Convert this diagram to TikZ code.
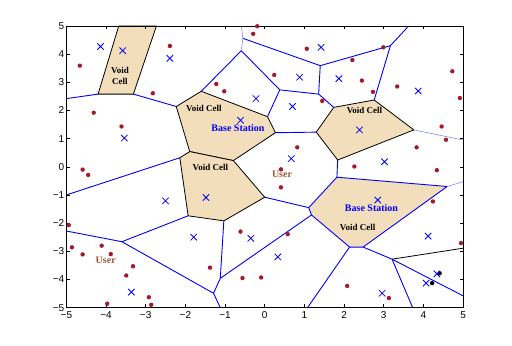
\documentclass[tikz,border=0pt]{standalone}
\usepackage{fontspec}
\setmainfont{Liberation Serif}
\newfontfamily\tickfont{Liberation Sans}
\definecolor{cellfill}{RGB}{242,222,186}
\definecolor{userdot}{RGB}{165,25,45}
\definecolor{usertext}{RGB}{165,85,45}
\begin{document}
\begin{tikzpicture}[x=39.67pt,y=28.17pt,
    edge/.style={blue,line width=0.9pt},
    faint/.style={blue!55,line width=0.5pt},
    voidcell/.style={fill=cellfill,draw=black,line width=0.8pt,line join=round},
    celllabel/.style={font=\bfseries\fontsize{9}{11}\selectfont,inner sep=0pt,align=center},
    bslabel/.style={font=\bfseries\fontsize{10}{12}\selectfont,inner sep=0pt,text=blue},
    userlabel/.style={font=\bfseries\fontsize{10}{12}\selectfont,inner sep=0pt,text=usertext},
    ticklabel/.style={font=\tickfont\fontsize{10}{12}\selectfont,inner sep=0pt}]
\useasboundingbox (-6.673,-6.361) rectangle (6.234,5.921);
\def\tk{3.5pt}
\def\xs{3.2pt}
% corners of the voronoi cells
\coordinate (a1) at (-3.68,5);    \coordinate (a2) at (-2.73,5);
\coordinate (a3) at (-3.31,2.58); \coordinate (a4) at (-4.20,2.58);
\coordinate (b1) at (-1.60,2.68); \coordinate (b2) at (0.07,1.78);
\coordinate (b3) at (0.27,1.21);  \coordinate (b4) at (-0.79,0.22);
\coordinate (b5) at (-1.89,0.54); \coordinate (b6) at (-2.23,2.14);
\coordinate (c1) at (-2.14,0.32); \coordinate (c2) at (0.0,-1.08);
\coordinate (c3) at (-1.03,-1.92);\coordinate (c4) at (-1.93,-1.74);
\coordinate (d1) at (1.74,2.11);  \coordinate (d2) at (2.76,2.37);
\coordinate (d3) at (3.76,1.31);  \coordinate (d4) at (1.84,0.24);
\coordinate (d5) at (1.30,1.23);
\coordinate (e1) at (1.82,-0.37); \coordinate (e2) at (4.60,-0.70);
\coordinate (e3) at (2.48,-2.85); \coordinate (e4) at (2.14,-2.85);
\coordinate (e5) at (1.18,-1.71); \coordinate (e6) at (1.11,-1.45);
\coordinate (f1) at (-0.59,4.12); \coordinate (f2) at (-0.55,4.56);
\coordinate (f3) at (1.40,3.59);  \coordinate (f4) at (3.17,4.30);
\coordinate (f5) at (1.36,2.58);  \coordinate (f6) at (0.38,2.73);
\coordinate (g1) at (-3.60,-2.66);\coordinate (g2) at (-1.29,-4.49);
\coordinate (g3) at (-1.12,-3.96);\coordinate (h1) at (3.21,-3.28);
% void cells
\draw[voidcell] (a1)--(a2)--(a3)--(a4)--cycle;
\draw[voidcell] (b1)--(b2)--(b3)--(b4)--(b5)--(b6)--cycle;
\draw[voidcell] (c1)--(b5)--(b4)--(c2)--(c3)--(c4)--cycle;
\draw[voidcell] (d1)--(d2)--(d3)--(d4)--(d5)--cycle;
\draw[voidcell,draw=blue,line width=0.9pt] (e1)--(e2)--(e3)--(e4)--(e5)--(e6)--cycle;
% cell borders
\draw[edge] (-5,2.42)--(a4) (a3)--(b6) (b1)--(f1)--(f6)--(b2)
    (f6)--(f5)--(f3)--(f4)--(3.63,5) (f4)--(d2) (f5)--(d1) (b3)--(d5)
    (f2)--(f3) (d4)--(e1) (-5,-1)--(c1) (c2)--(e6) (e5)--(g3)
    (c3)--(g3)--(g2)--(-1.12,-5) (g2)--(g1)--(-5,-2.28) (g1)--(c4)
    (e4)--(1.08,-5) (e3)--(h1)--(3.73,-5) (h1)--(5,-4.58);
\draw[faint] (f1)--(f2)--(-0.59,5) (d3)--(5,0.95) (e2)--(5,-0.53);
\draw[black,line width=0.8pt] (h1)--(5,-2.89);
% frame and ticks
\draw[line width=0.5pt] (-5,-5) rectangle (5,5);
\foreach \t/\s in {-5/−5,-4/−4,-3/−3,-2/−2,-1/−1,0/0,1/1,2/2,3/3,4/4,5/5}
{\draw[line width=0.5pt] (\t,-5)--++(0,\tk) (\t,5)--++(0,-\tk)
     (-5,\t)--++(\tk,0) (5,\t)--++(-\tk,0);
 \node[ticklabel,anchor=north] (xt\t) at ([yshift=-4pt]\t,-5) {\s};
 \node[ticklabel,anchor=east] (yt\t) at ([xshift=-2pt]-5,\t) {\s};}
% users
\foreach \x/\y in {-4.66/3.59,-2.82/2.61,-4.31/1.92,-3.61/1.43,-4.59/-0.10,
    -4.45/-0.29,-2.39/4.29,-0.19/4.99,-0.29/4.72,-1.22/2.94,-1.02/2.68,
    1.06/4.19,2.21/3.79,0.24/3.26,2.45/3.06,1.45/2.34,0.82/0.69,0.41/-0.09,
    2.99/4.24,4.73/3.39,3.34/2.85,2.73/2.66,4.92/2.44,4.46/1.43,4.57/0.96,
    3.83/0.69,4.34/-0.12,2.26/0.01,0.41/-0.73,0.58/-2.39,-0.09/-3.93,
    2.08/-4.23,4.24/-1.23,4.95/-2.71,3.13/-4.66,-0.61/-2.30,-1.38/-3.58,
    -0.56/-3.95,-4.94/-2.07,-4.86/-2.86,-4.59/-3.11,-4.11/-2.80,-3.88/-3.10,
    -3.32/-3.53,-3.49/-3.86,-2.92/-4.63,-2.86/-4.90,-3.97/-4.86}
    {\fill[userdot] (\x,\y) circle (2.2pt);}
\fill (4.41,-3.78) circle (2.2pt) (4.22,-4.13) circle (2.2pt);
% base stations
\foreach \x/\y in {-4.14/4.27,-3.58/4.12,-3.54/1.02,-2.39/3.85,-0.22/2.42,
    -0.61/1.65,1.42/4.24,0.88/3.18,1.87/3.13,0.70/2.14,2.39/1.31,3.87/2.69,
    3.02/0.18,0.67/0.29,2.85/-1.18,4.12/-2.46,4.34/-3.80,4.07/-4.13,
    2.96/-4.49,0.33/-3.20,-0.35/-2.54,-1.79/-2.50,-2.50/-1.21,-1.48/-1.09,
    -3.36/-4.45}
    {\draw[blue,line width=0.8pt] ([shift={(-\xs,-\xs)}]\x,\y)--++(2*\xs,2*\xs)
        ([shift={(-\xs,\xs)}]\x,\y)--++(2*\xs,-2*\xs);}
% labels
\node[celllabel] (void1) at (-3.648,3.223) {Void\\Cell};
\node[celllabel] (void2) at (-1.535,2.087) {Void Cell};
\node[bslabel] (bs1) at (-0.673,1.367) {Base Station};
\node[celllabel] (void3) at (-1.371,-0.007) {Void Cell};
\node[celllabel] (void4) at (2.516,1.991) {Void Cell};
\node[bslabel] (bs2) at (2.692,-1.452) {Base Station};
\node[celllabel] (void5) at (2.344,-2.148) {Void Cell};
\node[userlabel] (user1) at (0.436,-0.266) {User};
\node[userlabel] (user2) at (-4.008,-3.309) {User};
\end{tikzpicture}
\end{document}
